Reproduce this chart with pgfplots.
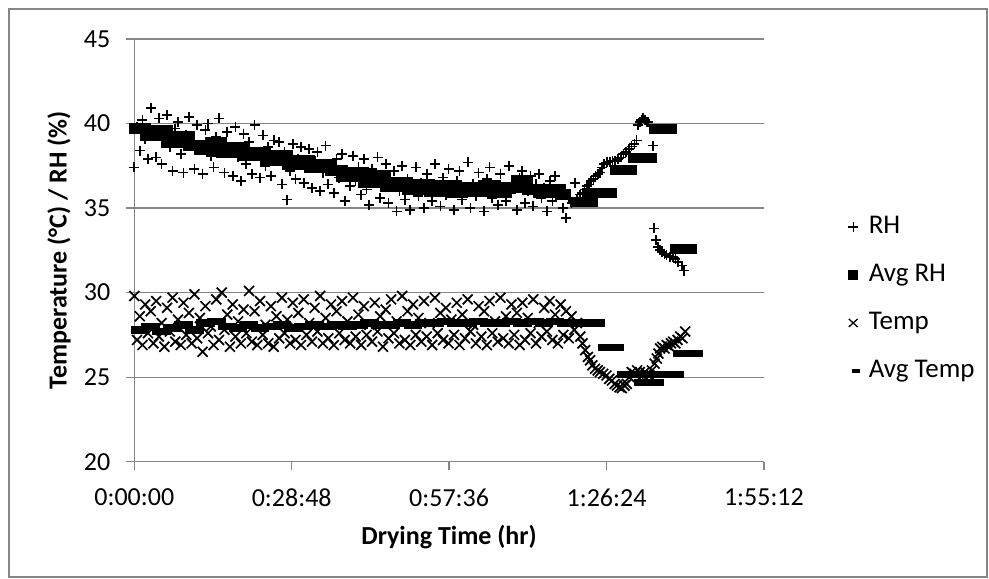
\documentclass[border=0pt]{standalone}
\usepackage{fontspec}
\setmainfont{Carlito}
\usepackage{pgfplots}
\usepackage{pgfplotstable}
\pgfplotsset{compat=1.18}
\definecolor{axgray}{RGB}{134,134,134}

% raw readings: time in minutes, value
\pgfplotstableread{
t v
0.0 37.4
0.5 39.8
1.0 38.4
1.5 40.2
2.0 39.1
2.5 37.9
3.0 40.9
3.5 39.4
4.0 38.0
4.5 40.3
5.0 37.6
5.5 39.0
6.0 40.5
6.5 38.6
7.0 37.2
7.5 39.7
8.0 40.1
8.5 38.2
9.0 37.1
9.5 39.3
10.0 40.4
10.5 38.8
11.0 37.3
11.5 39.9
12.0 38.5
12.5 37.0
13.0 39.6
13.5 40.0
14.0 38.1
14.5 37.4
15.0 39.2
15.5 40.3
16.0 38.7
16.5 37.1
17.0 39.5
17.5 38.3
18.0 36.9
18.5 39.8
19.0 38.0
19.5 36.6
20.0 39.4
20.5 37.6
21.0 38.9
21.5 37.0
22.0 39.9
22.5 38.2
23.0 36.8
23.5 39.3
24.0 37.5
24.5 38.6
25.0 36.9
25.5 39.0
26.0 37.8
26.5 38.9
27.0 36.4
27.5 38.3
28.0 35.5
28.5 37.2
29.0 38.8
29.5 36.7
30.0 37.9
30.5 38.6
31.0 36.5
31.5 37.4
32.0 38.5
32.5 36.2
33.0 37.8
33.5 38.3
34.0 36.0
34.5 37.1
35.0 38.7
35.5 36.4
36.0 37.6
36.5 35.9
37.0 37.9
37.5 36.8
38.0 38.2
38.5 35.4
39.0 37.0
39.5 36.3
40.0 38.1
40.5 36.6
41.0 37.4
41.5 35.8
42.0 37.9
42.5 36.1
43.0 35.2
43.5 37.3
44.0 36.5
44.5 38.0
45.0 35.6
45.5 36.9
46.0 37.6
46.5 35.3
47.0 36.4
47.5 37.2
48.0 34.8
48.5 36.0
49.0 37.5
49.5 35.5
50.0 36.7
50.5 34.9
51.0 36.2
51.5 37.4
52.0 35.7
52.5 36.5
53.0 35.0
53.5 37.0
54.0 36.1
54.5 35.4
55.0 37.6
55.5 36.3
56.0 35.1
56.5 36.8
57.0 35.8
57.5 37.3
58.0 36.0
58.5 34.9
59.0 36.6
59.5 37.2
60.0 35.5
60.5 36.2
61.0 37.7
61.5 35.0
62.0 36.4
62.5 35.7
63.0 37.1
63.5 36.0
64.0 34.8
64.5 36.7
65.0 37.4
65.5 35.6
66.0 36.3
66.5 35.2
67.0 37.0
67.5 36.1
68.0 35.4
68.5 37.5
69.0 35.9
69.5 36.5
70.0 34.9
70.5 36.8
71.0 37.2
71.5 35.3
72.0 36.0
72.5 36.9
73.0 35.1
73.5 36.4
74.0 37.0
74.5 35.6
75.0 36.2
75.5 34.8
76.0 36.6
76.5 35.4
77.0 36.9
77.5 35.8
78.0 36.1
78.5 35.0
79.0 34.4
79.5 35.6
80.0 35.3
80.6 36.5
81.0 35.5
81.6 35.8
82.0 35.9
82.4 36.1
82.8 36.3
83.2 36.4
83.6 36.6
84.0 36.7
84.4 36.9
84.8 37.0
85.2 37.1
85.6 37.4
86.0 37.6
86.5 37.7
87.0 37.75
87.5 37.8
88.0 37.8
88.5 37.9
89.0 38.0
89.5 38.2
90.0 38.3
90.5 38.5
91.0 38.65
91.5 38.8
91.9 39.0
92.2 39.9
92.5 40.1
92.8 40.2
93.1 40.3
93.4 40.2
93.7 40.1
94.0 40.1
94.86 38.7
95.15 33.8
95.46 33.1
95.88 32.7
96.2 32.5
96.5 32.4
97.0 32.3
97.4 32.2
98.0 32.1
98.6 32.1
99.0 32.0
99.5 31.8
100.2 31.6
100.6 31.3
}\rhdata

\pgfplotstableread{
t v
0.0 29.8
0.5 27.2
1.0 28.6
1.5 26.9
2.0 29.3
2.5 27.6
3.0 28.9
3.5 27.0
4.0 29.5
4.5 27.4
5.0 28.2
5.5 26.8
6.0 29.1
6.5 27.7
7.0 29.7
7.5 27.1
8.0 28.4
8.5 26.9
9.0 29.4
9.5 27.5
10.0 28.8
10.5 27.0
11.0 29.9
11.5 27.3
12.0 28.5
12.5 26.5
13.0 29.2
13.5 27.6
14.0 28.0
14.5 26.9
15.0 29.6
15.5 27.2
16.0 30.0
16.5 27.8
17.0 28.7
17.5 26.8
18.0 29.3
18.5 27.4
19.0 28.3
19.5 27.0
20.0 29.0
20.5 27.6
21.0 30.1
21.5 27.1
22.0 28.9
22.5 26.9
23.0 29.5
23.5 27.5
24.0 28.1
24.5 27.0
25.0 29.2
25.5 26.8
26.0 28.6
26.5 27.3
27.0 29.7
27.5 27.6
28.0 28.4
28.5 27.0
29.0 29.4
29.5 27.2
30.0 28.8
30.5 26.9
31.0 29.6
31.5 27.5
32.0 28.2
32.5 27.1
33.0 29.1
33.5 27.7
34.0 29.8
34.5 27.0
35.0 28.5
35.5 27.3
36.0 29.3
36.5 26.9
37.0 28.9
37.5 27.6
38.0 29.5
38.5 27.2
39.0 28.3
39.5 27.0
40.0 29.7
40.5 27.4
41.0 28.7
41.5 26.9
42.0 29.2
42.5 27.5
43.0 28.1
43.5 27.1
44.0 29.4
44.5 27.7
45.0 28.6
45.5 26.8
46.0 29.0
46.5 27.3
47.0 29.6
47.5 27.6
48.0 28.3
48.5 27.0
49.0 29.8
49.5 27.2
50.0 28.9
50.5 26.9
51.0 29.3
51.5 27.5
52.0 28.5
52.5 27.1
53.0 29.5
53.5 27.4
54.0 28.2
54.5 26.9
55.0 29.7
55.5 27.6
56.0 28.8
56.5 27.2
57.0 29.1
57.5 27.0
58.0 28.4
58.5 27.5
59.0 29.4
59.5 26.9
60.0 28.7
60.5 27.3
61.0 29.6
61.5 27.7
62.0 28.1
62.5 27.0
63.0 29.2
63.5 27.4
64.0 28.9
64.5 26.9
65.0 29.5
65.5 27.6
66.0 28.3
66.5 27.1
67.0 29.7
67.5 27.3
68.0 28.6
68.5 27.0
69.0 29.3
69.5 27.5
70.0 28.8
70.5 26.9
71.0 29.4
71.5 27.2
72.0 28.5
72.5 27.6
73.0 29.6
73.5 27.0
74.0 28.2
74.5 27.4
75.0 29.1
75.5 27.7
76.0 29.5
76.5 27.2
77.0 28.7
77.5 27.0
78.0 29.3
78.5 27.5
79.0 28.9
79.5 27.3
80.0 28.6
80.5 27.8
81.0 28.2
81.6 27.4
82.0 27.0
82.5 26.6
83.0 26.2
83.4 26.0
83.8 25.7
84.3 25.5
84.8 25.4
85.2 25.3
85.8 25.2
86.4 25.1
86.9 24.9
87.4 24.8
87.9 24.6
88.3 24.5
88.8 24.4
89.2 24.35
89.7 24.5
90.1 24.6
90.6 25.0
91.0 25.3
91.5 25.2
92.0 25.4
92.5 25.3
93.0 25.1
93.4 25.3
93.8 25.2
94.3 25.1
94.7 25.4
95.2 25.8
95.6 26.1
95.9 26.4
96.2 26.7
96.6 26.8
97.0 26.7
97.4 26.9
97.9 26.8
98.2 27.0
98.6 27.1
99.0 27.0
99.4 27.2
99.9 27.4
100.3 27.3
100.8 27.7
}\tempdata

% block averages
\pgfplotstableread{
t v
0 39.7
2 39.3
4 39.6
6 38.9
8 39.2
10 38.7
12 38.5
14 38.9
16 38.3
18 38.6
20 38.1
22 38.3
24 37.8
26 38.1
28 37.6
30 37.8
32 37.4
34 37.6
36 37.2
38 36.9
40 37.1
42 36.5
44 36.9
46 36.3
48 36.5
50 36.1
52 36.4
54 36.0
56 36.3
58 35.9
60 36.2
62 36.0
64 36.3
66 35.9
68 36.2
70 36.6
72 36.1
74 35.9
76 36.1
78 35.8
78.8 35.8
}\avgrh

\pgfplotstableread{
t v
80.6 35.38
83.9 35.38
84.0 nan
83.0 35.92
87.4 35.92
87.5 nan
87.9 37.26
91.1 37.26
91.2 nan
91.2 37.95
94.7 37.95
94.8 nan
95.0 39.69
98.4 39.69
98.5 nan
98.9 32.57
102.0 32.57
}\avgrhtail

\pgfplotstableread{
t v
0 27.8
2 28.0
4 27.7
6 27.9
8 28.1
10 27.8
12 28.2
14 28.3
16 28.0
18 27.9
20 28.1
22 27.9
24 28.0
26 28.1
28 27.9
30 28.0
32 28.1
34 28.0
36 28.1
38 28.0
40 28.1
42 28.2
44 28.1
46 28.1
48 28.2
50 28.1
52 28.2
54 28.2
56 28.3
58 28.2
60 28.2
62 28.3
64 28.2
66 28.2
68 28.3
70 28.2
72 28.3
74 28.2
76 28.3
78 28.2
80 28.2
85.5 28.2
}\avgtemp

\pgfplotstableread{
t v
85.5 26.77
89.0 26.77
89.1 nan
89.0 25.17
99.9 25.17
100.0 nan
92.0 24.67
96.3 24.67
96.4 nan
99.2 26.41
103.5 26.41
}\avgtemptail

\begin{document}
\begin{tikzpicture}
\begin{axis}[
    scale only axis,
    width=314.8pt, height=211.35pt,
    xmin=0, xmax=115.2, ymin=20, ymax=45,
    xtick={0,28.8,57.6,86.4,115.2},
    xticklabels={0:00:00,0:28:48,0:57:36,1:26:24,1:55:12},
    ytick={20,25,30,35,40,45},
    axis x line*=bottom, axis y line*=left,
    axis line style={axgray, line width=0.65pt, -},
    ymajorgrids, grid style={axgray, line width=0.65pt},
    tick align=outside, major tick length=4pt,
    tick style={axgray, line width=0.65pt},
    /pgf/number format/assume math mode=true,
    tick label style={font=\fontsize{13}{15}\selectfont},
    xticklabel style={yshift=-6pt},
    yticklabel style={xshift=-4.5pt},
    xlabel={Drying Time (hr)},
    ylabel={Temperature (°C) / RH (\%)},
    label style={font=\fontsize{13}{15}\selectfont\bfseries},
    xlabel style={at={(axis description cs:0.5,-0.178)}, anchor=center},
    ylabel style={at={(axis description cs:-0.1196,0.5)}, anchor=center},
    unbounded coords=jump,
    clip=false,
    legend cell align=left,
    legend style={draw=none, fill=none, at={(1.1212,0.385)}, anchor=west,
        inner sep=0pt, row sep=12.5pt, column sep=1.5pt,
        font=\fontsize{13.5}{15}\selectfont,
        nodes={inner sep=0pt, text height=9pt, text depth=2.5pt}},
]
\addplot[only marks, mark=+, mark size=2.5pt, mark options={line width=0.85pt},
    legend image code/.code={\draw[line width=0.65pt] (-2.4pt,0) -- (2.4pt,0) (0,-2.4pt) -- (0,2.4pt); \path (-3.5pt,0) (3.5pt,0);}]
    table[x=t, y=v] {\rhdata};
\addlegendentry{RH}
\addplot[const plot, black, line width=5.6pt, line cap=rect, line join=miter,
    legend image code/.code={\fill[draw=none] (-2.5pt,-2.6pt) rectangle (2.5pt,2.6pt); \path (-3.5pt,0) (3.5pt,0);}]
    table[x=t, y=v] {\avgrh};
\addlegendentry{Avg RH}
\addplot[forget plot, black, line width=5pt, line cap=rect]
    table[x=t, y=v] {\avgrhtail};
\addplot[only marks, mark=x, mark size=3.5pt, mark options={line width=0.85pt},
    legend image code/.code={\draw[line width=0.65pt] (-2.2pt,-2pt) -- (2.2pt,2pt) (-2.2pt,2pt) -- (2.2pt,-2pt); \path (-3.5pt,0) (3.5pt,0);}]
    table[x=t, y=v] {\tempdata};
\addlegendentry{Temp}
\addplot[const plot, black, line width=3.8pt, line cap=rect, line join=miter,
    legend image code/.code={\fill[draw=none] (-0.8pt,-1.1pt) rectangle (3.5pt,1.1pt); \path (-3.5pt,0) (3.5pt,0);}]
    table[x=t, y=v] {\avgtemp};
\addlegendentry{Avg Temp}
\addplot[forget plot, black, line width=3.3pt, line cap=rect]
    table[x=t, y=v] {\avgtemptail};
\end{axis}
\pgfresetboundingbox
\draw[axgray, line width=0.6pt] (-62.65pt,-57.65pt) rectangle (426.35pt,226.35pt);
\useasboundingbox (-67.15pt,-58.15pt) rectangle (427.35pt,230.85pt);
\end{tikzpicture}
\end{document}
